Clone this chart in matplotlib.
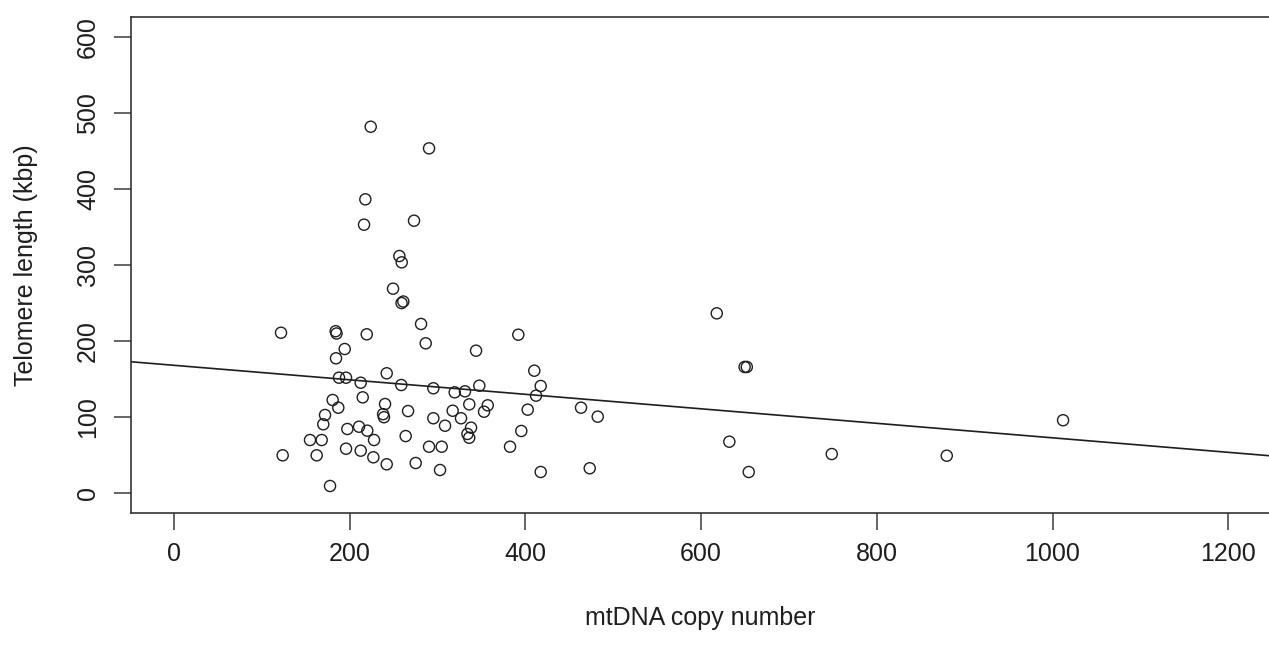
import matplotlib
matplotlib.use("Agg")
import matplotlib.pyplot as plt

plt.rcParams['font.family'] = ['Liberation Sans', 'DejaVu Sans']

# mtDNA copy number (x) and telomere length in kbp (y)
mtdna = [121.8, 184.0, 185.0, 219.4, 281.2, 286.5, 259.0, 261.0, 194.3, 184.4,
         187.8, 195.8, 212.5, 242.1, 258.7, 295.2, 319.5, 214.8, 180.6, 187.0,
         240.2, 238.0, 239.0, 266.4, 317.2, 295.2, 308.5, 171.9, 169.9, 197.3,
         210.6, 220.0, 227.7, 154.8, 168.1, 263.7, 290.3, 304.7, 195.8, 212.5,
         123.7, 162.4, 226.9, 242.1, 275.1, 302.8, 177.6, 391.9, 343.8, 410.1,
         347.5, 417.4, 412.1, 331.2, 336.1, 357.1, 352.9, 326.7, 338.1, 334.0,
         336.0, 402.6, 395.3, 382.5, 417.4, 473.2, 463.3, 482.3, 617.8, 649.5,
         652.0, 632.1, 654.2, 748.7, 879.6, 1012.0, 223.9, 290.3, 217.8, 216.3,
         273.2, 256.5, 259.2, 249.3]
telomere = [211.0, 213.0, 210.0, 208.9, 222.5, 197.1, 250.0, 252.0, 189.6, 177.4,
            151.9, 151.9, 145.3, 157.7, 142.3, 138.0, 132.7, 126.1, 122.6, 112.5,
            117.3, 104.0, 100.0, 108.1, 108.5, 98.6, 88.8, 102.9, 90.7, 84.5,
            87.5, 82.3, 70.0, 70.0, 70.0, 75.2, 61.2, 61.2, 58.6, 56.0,
            49.9, 49.9, 47.3, 38.1, 39.8, 30.6, 9.6, 208.4, 187.4, 161.1,
            141.4, 141.0, 128.3, 134.0, 116.9, 115.6, 107.2, 98.6, 86.2, 78.0,
            73.0, 109.9, 81.9, 61.2, 28.0, 32.9, 112.5, 100.7, 236.5, 166.0,
            166.0, 67.8, 28.0, 51.6, 49.4, 96.0, 481.7, 453.3, 386.3, 353.0,
            358.2, 311.8, 303.5, 268.9]

# fitted regression line
fit_intercept = 168.2
fit_slope = -0.0953

x_ticks = [0, 200, 400, 600, 800, 1000, 1200]
y_ticks = [0, 100, 200, 300, 400, 500, 600]
x_label = "mtDNA copy number"
y_label = "Telomere length (kbp)"

W, H = 1269, 649
ax_left, ax_bottom_px, ax_top_px = 130.7, 512.7, 16.7
fig = plt.figure(figsize=(W / 100, H / 100), dpi=100)
ax = fig.add_axes([ax_left / W, (H - ax_bottom_px) / H, 1 - ax_left / W,
                   (ax_bottom_px - ax_top_px) / H])

ink = '#1e1e1e'
ax.scatter(mtdna, telomere, s=64, facecolors='none', edgecolors=ink, linewidths=1.0, zorder=3)

xl = (-49.3, 1246.4)
ax.plot(xl, [fit_intercept + fit_slope * v for v in xl], color=ink, lw=1.2, zorder=2)

ax.set_xlim(*xl)
ax.set_ylim(-25.5, 626.3)
ax.set_xticks(x_ticks)
ax.set_yticks(y_ticks)
ax.tick_params(axis='both', length=12, width=1.1, color='#3a3a3a', labelsize=18, labelcolor=ink)
ax.tick_params(axis='x', pad=9)
ax.tick_params(axis='y', pad=10)
for lab in ax.get_yticklabels():
    lab.set_rotation(90)
    lab.set_va('center')

for side in ['left', 'bottom', 'top']:
    ax.spines[side].set_color('#333333')
    ax.spines[side].set_linewidth(1.2)
ax.spines['right'].set_visible(False)

ax_w = W - ax_left
ax_h = ax_bottom_px - ax_top_px
ax.set_xlabel(x_label, fontsize=18, color=ink)
ax.xaxis.set_label_coords(0.5, (ax_bottom_px - 606) / ax_h)
ax.set_ylabel(y_label, fontsize=18, color=ink, va='center')
ax.yaxis.set_label_coords((26 - ax_left) / ax_w, 0.5)

fig.savefig("out.png", dpi=100)
